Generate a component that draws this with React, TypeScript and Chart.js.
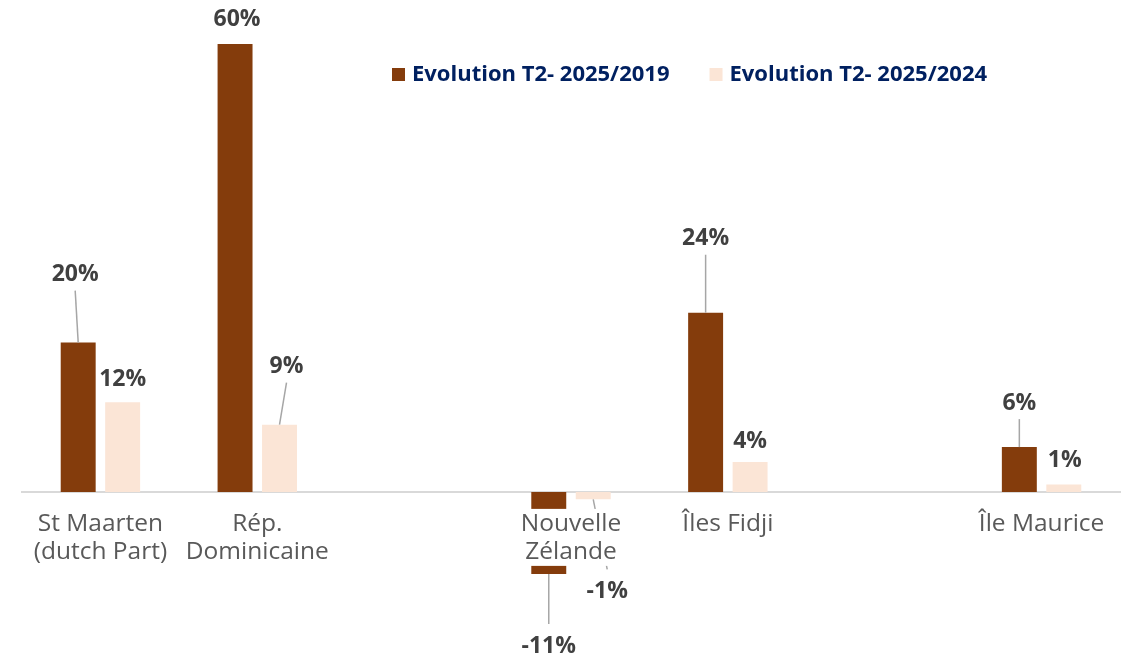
import React, { useEffect, useRef } from "react";
import { Chart, registerables } from "chart.js";

Chart.register(...registerables);

// ---- data ----
const categories: (string | string[])[] = [
  ["St Maarten", "(dutch Part)"],
  ["Rép.", "Dominicaine"],
  "",
  ["Nouvelle", "Zélande"],
  "Îles Fidji",
  "",
  "Île Maurice",
];
const seriesNames = ["Evolution T2- 2025/2019", "Evolution T2- 2025/2024"];
const evolution2019 = [20, 60, null, -11, 24, null, 6];
const evolution2024 = [12, 9, null, -1, 4, null, 1];

// ---- style ----
const seriesColors = ["#843C0C", "#FBE5D6"];
const tickFontSize = 24.5;
const tickLineHeight = 1.15;
// label offset from bar tip [dx, dy, leader line?]
const labelOffsets2019: (number[] | null)[] = [
  [-3, -68, 1], [2, -25, 0], null, [0, 72, 1], [0, -74, 1], null, [0, -44, 1],
];
const labelOffsets2024: (number[] | null)[] = [
  [0, -23, 0], [7, -58, 1], null, [14, 92, 1], [0, -21, 0], null, [1, -24, 0],
];

const dataLabelPlugin = {
  id: "dataLabels",
  afterDatasetsDraw(chart: any) {
    const ctx = chart.ctx;
    ctx.save();
    chart.data.datasets.forEach((ds: any, di: number) => {
      const meta = chart.getDatasetMeta(di);
      const offsets = di === 0 ? labelOffsets2019 : labelOffsets2024;
      meta.data.forEach((bar: any, i: number) => {
        const v = ds.data[i];
        const off = offsets[i];
        if (v == null || !off) return;
        const tipY = bar.y;
        const lx = bar.x + off[0];
        const ly = tipY + off[1];
        if (off[2]) {
          ctx.strokeStyle = "#A6A6A6";
          ctx.lineWidth = 1.5;
          ctx.beginPath();
          ctx.moveTo(bar.x, tipY);
          const endY = v >= 0 ? ly + 16 : ly - 22;
          ctx.lineTo(lx, endY);
          ctx.stroke();
        }
        ctx.fillStyle = "#404040";
        ctx.font = "bold 23px 'Open Sans'";
        ctx.textAlign = "center";
        ctx.textBaseline = "middle";
        ctx.fillText(v + "%", lx, ly);
      });
    });
    ctx.restore();
  },
};

// white box behind the category labels (drawn over the bars, under the labels)
const labelBackdropPlugin = {
  id: "labelBackdrop",
  afterDatasetsDraw(chart: any) {
    const ctx = chart.ctx;
    const xs = chart.scales.x;
    const zeroY = chart.scales.y.getPixelForValue(0);
    ctx.save();
    ctx.font = `${tickFontSize}px 'Open Sans'`;
    ctx.fillStyle = "#FFFFFF";
    categories.forEach((c, i) => {
      const lines = Array.isArray(c) ? c : [c];
      if (!lines.join("")) return;
      const w = Math.max(...lines.map((l) => ctx.measureText(l).width));
      const x = xs.getPixelForTick(i);
      ctx.fillRect(x - w / 2 - 2, zeroY + 17, w + 4, lines.length * 28.5);
    });
    ctx.restore();
  },
};

const legendPlugin = {
  id: "customLegend",
  afterDraw(chart: any) {
    const ctx = chart.ctx;
    ctx.save();
    ctx.font = "bold 22px 'Open Sans'";
    ctx.textBaseline = "middle";
    ctx.textAlign = "left";
    let x = 392;
    const y = 75;
    chart.data.datasets.forEach((ds: any) => {
      ctx.fillStyle = ds.backgroundColor;
      ctx.fillRect(x, y - 7, 13, 13);
      x += 20;
      ctx.fillStyle = "#002060";
      ctx.fillText(ds.label, x, y);
      x += ctx.measureText(ds.label).width + 40;
    });
    ctx.restore();
  },
};

export default function App() {
  const canvasRef = useRef<HTMLCanvasElement | null>(null);

  useEffect(() => {
    if (!canvasRef.current) return;
    const chart = new Chart(canvasRef.current, {
      type: "bar",
      data: {
        labels: categories,
        datasets: [
          {
            label: seriesNames[0],
            data: evolution2019,
            backgroundColor: seriesColors[0],
            categoryPercentage: 0.567,
            barPercentage: 0.786,
          },
          {
            label: seriesNames[1],
            data: evolution2024,
            backgroundColor: seriesColors[1],
            categoryPercentage: 0.567,
            barPercentage: 0.786,
          },
        ],
      },
      options: {
        animation: false,
        responsive: true,
        maintainAspectRatio: false,
        layout: { padding: { left: 22, right: 4, top: 44, bottom: 84 } },
        plugins: { legend: { display: false }, tooltip: { enabled: false } },
        scales: {
          x: {
            position: { y: 0 } as any,
            offset: true,
            grid: { display: false, drawTicks: false },
            border: { display: true, color: "#D9D9D9", width: 2 },
            ticks: {
              z: 1,
              color: "#595959",
              font: { family: "'Open Sans'", size: tickFontSize, lineHeight: tickLineHeight },
              padding: 18,
              maxRotation: 0,
              autoSkip: false,
            } as any,
          },
          y: { display: false, min: -11, max: 60 },
        },
      },
      plugins: [dataLabelPlugin, labelBackdropPlugin, legendPlugin],
    });
    return () => chart.destroy();
  }, []);

  return (
    <div style={{ position: "absolute", left: 0, top: 0, width: 1124, height: 658 }}>
      <canvas ref={canvasRef} />
    </div>
  );
}
